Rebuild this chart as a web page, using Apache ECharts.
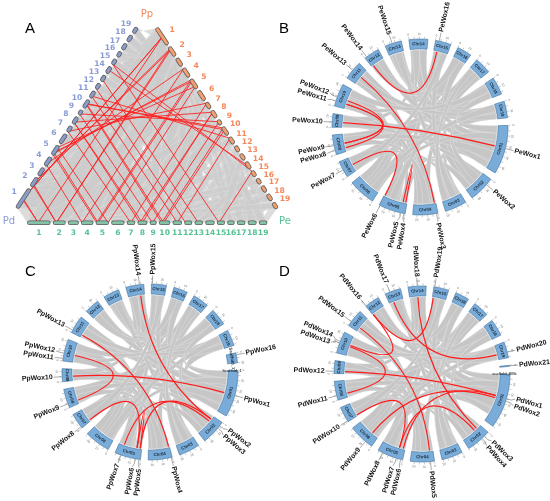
<!DOCTYPE html>
<html><head><meta charset="utf-8">
<script src="https://cdn.jsdelivr.net/npm/echarts@6/dist/echarts.min.js"></script>
<style>html,body{margin:0;padding:0;background:#fff;}#chart{width:550px;height:501px;}</style>
</head><body><div id="chart"></div>
<script>
// ---------------- DATA ----------------
const chrNames = ['Chr01','Chr02','Chr03','Chr04','Chr05','Chr06','Chr07','Chr08','Chr09','Chr10',
  'Chr11','Chr12','Chr13','Chr14','Chr15','Chr16','Chr17','Chr18','Chr19'];
// chromosome lengths (Mb)
const peChrLen = [47,25,21,24,26,26,16,19,13,22,18,15,16,18,15,14,16,17,16];
const ppChrLen = [47,25,21,24,26,26,16,19,13,22,18,15,16,18,15,14,16,17,16,10];
const pdChrLen = [55,25,21,24,26,26,16,19,13,22,18,15,16,18,15,14,16,17,16,1];
const ppExtraName = 'Scaffold_1';
const pdExtraName = 'scaffold_885';

// WOX genes: [name, chromosome, position Mb]
const peGenes = [
  ['PeWox1',1,22],['PeWox2',2,6.5],['PeWox3',4,1.5],['PeWox4',5,1.3],['PeWox5',5,4.2],['PeWox6',5,25],
  ['PeWox7',7,7.5],['PeWox8',8,4],['PeWox9',8,9],['PeWox10',9,5],['PeWox11',10,5],['PeWox12',10,9],
  ['PeWox13',11,9],['PeWox14',12,2],['PeWox15',13,7],['PeWox16',15,3.5]
];
const ppGenes = [
  ['PpWox1',1,25],['PpWox2',2,4],['PpWox3',2,7],['PpWox4',4,1],['PpWox5',5,1.6],['PpWox6',5,5.3],['PpWox7',5,20],
  ['PpWox8',7,1.5],['PpWox9',8,4],['PpWox10',9,5],['PpWox11',10,2.5],['PpWox12',10,7.8],['PpWox13',11,2.7],
  ['PpWox14',14,13.7],['PpWox15',15,1],['PpWox16',20,2]
];
const pdGenes = [
  ['PdWox1',1,24.6],['PdWox2',1,27.2],['PdWox3',2,5.4],['PdWox4',2,8.5],['PdWox5',4,4],['PdWox6',5,2],['PdWox7',5,6.5],
  ['PdWox8',5,21],['PdWox9',6,7.7],['PdWox10',7,1],['PdWox11',8,4.5],['PdWox12',9,2.3],['PdWox13',10,10.3],
  ['PdWox14',10,12],['PdWox15',11,4.8],['PdWox16',12,0.5],['PdWox17',13,5],['PdWox18',14,9.2],['PdWox19',15,1],
  ['PdWox20',19,10.4],['PdWox21',20,0.5]
];
// segmental duplication pairs (red links)
const peLinks = [['PeWox16','PeWox14'],['PeWox13','PeWox3'],['PeWox12','PeWox9'],['PeWox11','PeWox8'],
  ['PeWox11','PeWox9'],['PeWox10','PeWox1'],['PeWox7','PeWox6'],['PeWox4','PeWox5']];
const ppLinks = [['PpWox14','PpWox2'],['PpWox13','PpWox4'],['PpWox12','PpWox9'],['PpWox10','PpWox1'],
  ['PpWox8','PpWox6'],['PpWox7','PpWox3'],['PpWox5','PpWox2'],['PpWox6','PpWox5']];
const pdLinks = [['PdWox19','PdWox16'],['PdWox18','PdWox3'],['PdWox17','PdWox20'],['PdWox15','PdWox5'],
  ['PdWox14','PdWox16'],['PdWox13','PdWox11'],['PdWox12','PdWox1'],['PdWox10','PdWox7'],['PdWox9','PdWox2'],
  ['PdWox7','PdWox4'],['PdWox6','PdWox1']];

// intra-genome collinear blocks (grey ribbons): [chrA, startA, endA, chrB, startB, endB] (Mb)
const syntenyBlocks = [
  [1,0,9,3,0,8],[1,9,20,11,1,14],[1,20,30,9,0,12],[1,30,46,3,8,21],[1,0,6,17,10,16],
  [2,0,9,5,0,8],[2,9,24,14,2,18],[2,18,25,4,16,24],[4,0,14,9,0,13],[4,14,24,11,6,18],
  [5,8,26,7,0,16],[5,18,26,2,18,25],[6,0,13,18,0,16],[6,13,26,16,0,14],[7,0,16,17,0,16],
  [8,0,19,10,0,22],[12,0,15,15,0,15],[13,0,16,19,0,16],[3,12,21,16,6,14],[11,0,8,4,0,10],
  [14,0,8,9,4,13],[10,12,22,6,18,26],[18,5,17,12,3,14],[15,4,15,13,2,12],[19,2,16,1,36,47],
  [3,0,5,7,3,9],[17,2,10,14,10,18],[16,0,6,10,0,7],[11,12,18,1,40,47],[9,6,13,5,0,6],
  [15,0,8,5,10,18],[16,6,14,2,10,18],[17,8,16,4,4,12],[18,0,8,8,10,19],[19,8,16,11,4,12],
  [14,10,18,1,12,22],[13,8,16,3,2,10],[12,6,15,1,20,30],[10,0,10,4,12,20],[9,0,6,2,0,6],
  [8,8,16,1,28,38],[7,8,16,6,6,14],[6,0,8,1,8,16],[5,12,20,17,4,12],[3,4,12,15,6,14],
  [2,4,12,18,8,16],[11,4,12,19,2,10],[14,2,10,13,6,14],[16,0,8,12,0,8],[4,6,14,8,2,10],
  [10,14,22,18,2,10],[19,0,8,6,2,10],[18,10,17,1,0,8],[17,0,6,3,14,21],[15,8,15,7,0,8]
];
// inter-genome collinear chromosome pairs (grey ribbons in triangle)
const triBlocks = [[1,1],[2,2],[3,3],[4,4],[5,5],[6,6],[7,7],[8,8],[9,9],[10,10],[11,11],[12,12],[13,13],
  [14,14],[15,15],[16,16],[17,17],[18,18],[19,19],[1,11],[11,1],[1,3],[3,1],[2,5],[5,2],[2,14],[14,2],
  [4,9],[9,4],[5,7],[7,5],[6,16],[16,6],[6,18],[18,6],[8,10],[10,8],[12,15],[15,12],[13,19],[19,13],
  [4,11],[11,4],[1,9],[9,1],[7,17],[17,7],[3,16],[16,3],[10,6],[6,10],[18,12],[12,18],[1,19],[19,1],
  [2,4],[4,2],[15,13],[13,15]];
// orthologous WOX pairs between genomes: [chrA, posA, chrB, posB]
const linksPdPe = [[1,24.6,1,22],[1,27.2,1,22],[2,5.4,2,6.5],[2,8.5,2,6.5],[4,4,4,1.5],[5,2,5,1.3],[5,6.5,5,4.2],
  [5,21,5,25],[7,1,7,7.5],[8,4.5,8,4],[8,4.5,8,9],[9,2.3,9,5],[10,10.3,10,5],[10,12,10,9],[11,4.8,11,9],
  [12,0.5,12,2],[13,5,13,7],[15,1,15,3.5]];
const linksPpPe = [[1,25,1,22],[2,4,2,6.5],[2,7,2,6.5],[4,1,4,1.5],[5,1.6,5,1.3],[5,5.3,5,4.2],[5,20,5,25],
  [7,1.5,7,7.5],[8,4,8,4],[8,4,8,9],[9,5,9,5],[10,2.5,10,5],[10,7.8,10,9],[11,2.7,11,9],[15,1,15,3.5]];
const linksPdPp = [[1,24.6,1,25],[1,27.2,1,25],[2,5.4,2,4],[2,8.5,2,7],[4,4,4,1],[5,2,5,1.6],[5,6.5,5,5.3],
  [5,21,5,20],[7,1,7,1.5],[8,4.5,8,4],[9,2.3,9,5],[10,10.3,10,2.5],[10,12,10,7.8],[11,4.8,11,2.7],
  [14,9.2,14,13.7],[15,1,15,1]];
const genomeNames = ['Pd','Pp','Pe'];
const panelLetters = ['A','B','C','D'];

// ---------------- LAYOUT / STYLE ----------------
const FONT = '"Liberation Sans", Arial, sans-serif';
const R_IN = 78, R_OUT = 88, R_LINK = 77;
const RED = '#ff1c1c';

function circLayout(lens, start, gap){
  const total = lens.reduce((a,b)=>a+b,0);
  const k = (360 - gap*lens.length)/total;
  const a0 = []; let a = start;
  lens.forEach(L=>{ a0.push(a); a += L*k + gap; });
  return {a0, k};
}
const circles = [
  {polar:0, names: chrNames, lens: peChrLen, start:-1, genes: peGenes, links: peLinks},
  {polar:1, names: chrNames.concat([ppExtraName]), lens: ppChrLen, start:-1, genes: ppGenes, links: ppLinks},
  {polar:2, names: chrNames.concat([pdExtraName]), lens: pdChrLen, start:0, genes: pdGenes, links: pdLinks}
];
function cAng(c, chr, pos){ return c.L.a0[chr-1] + Math.min(pos, c.lens[chr-1]) * c.L.k; }
function spread(angles, minSep){
  const idx = angles.map((a,i)=>i).sort((i,j)=>angles[i]-angles[j]);
  const la = angles.slice();
  for (let it=0; it<200; it++){
    let moved = false;
    for (let n=1; n<idx.length; n++){
      const i = idx[n-1], j = idx[n];
      const d = la[j]-la[i];
      if (d < minSep - 1e-6){ const s=(minSep-d)/2; la[i]-=s; la[j]+=s; moved=true; }
    }
    if (!moved) break;
  }
  return la;
}
circles.forEach(c=>{
  c.L = circLayout(c.lens, c.start, 5);
  c.geneAng = c.genes.map(g=>cAng(c, g[1], g[2]));
  c.labelAng = spread(c.geneAng, 4.2);
  c.geneIdx = {};
  c.genes.forEach((g,i)=>{ c.geneIdx[g[0]] = i; });
});

function arcPts(api, r, a0, a1, out){
  const n = Math.max(2, Math.ceil(Math.abs(a1-a0)/1.5));
  for (let s=0; s<=n; s++){ const p = api.coord([r, a0+(a1-a0)*s/n]); out.push([p[0],p[1]]); }
}
function quadPts(p0, cp, p2, out){
  const n = 18;
  for (let s=1; s<=n; s++){
    const t=s/n, u=1-t;
    out.push([u*u*p0[0]+2*u*t*cp[0]+t*t*p2[0], u*u*p0[1]+2*u*t*cp[1]+t*t*p2[1]]);
  }
}
function txt(x, y, rot, text, font, fill, align, valign){
  return {type:'text', x:x, y:y, rotation:rot, style:{text:text, font:font, fill:fill, textFill:fill,
    align:align, textAlign:align, verticalAlign:valign, textVerticalAlign:valign}};
}

const series = [];
circles.forEach(c=>{
  // grey collinearity ribbons
  series.push({type:'custom', coordinateSystem:'polar', polarIndex:c.polar, silent:true, z:1,
    data: syntenyBlocks.map(()=>[0,0]),
    renderItem:(params, api)=>{
      const b = syntenyBlocks[params.dataIndex];
      if (b[0] > c.lens.length || b[3] > c.lens.length) return null;
      const a0 = cAng(c,b[0],b[1]), a1 = cAng(c,b[0],b[2]);
      const b0 = cAng(c,b[3],b[4]), b1 = cAng(c,b[3],b[5]);
      const ctr = api.coord([0,0]);
      const pts = [];
      arcPts(api, R_LINK, a0, a1, pts);
      quadPts(pts[pts.length-1], ctr, api.coord([R_LINK,b0]), pts);
      arcPts(api, R_LINK, b0, b1, pts);
      quadPts(pts[pts.length-1], ctr, api.coord([R_LINK,a0]), pts);
      return {type:'polygon', shape:{points:pts}, style:{fill:'#c6c6c6', stroke:'#f4f4f4', lineWidth:0.3}};
    }});
  // red links
  series.push({type:'custom', coordinateSystem:'polar', polarIndex:c.polar, silent:true, z:2,
    data: c.links.map(()=>[0,0]),
    renderItem:(params, api)=>{
      const l = c.links[params.dataIndex];
      const aA = c.geneAng[c.geneIdx[l[0]]], aB = c.geneAng[c.geneIdx[l[1]]];
      const p0 = api.coord([R_LINK,aA]), p1 = api.coord([R_LINK,aB]), ctr = api.coord([0,0]);
      return {type:'bezierCurve', shape:{x1:p0[0],y1:p0[1],x2:p1[0],y2:p1[1],cpx1:ctr[0],cpy1:ctr[1]},
        style:{stroke:RED, lineWidth:1.15, fill:null}};
    }});
  // chromosome boxes
  series.push({type:'custom', coordinateSystem:'polar', polarIndex:c.polar, silent:true, z:3,
    data: c.lens.map(()=>[0,0]),
    renderItem:(params, api)=>{
      const i = params.dataIndex, len = c.lens[i];
      const a0 = c.L.a0[i], a1 = a0 + len*c.L.k;
      const pts = [];
      arcPts(api, R_OUT, a0, a1, pts);
      const inner = []; arcPts(api, R_IN, a1, a0, inner);
      const children = [{type:'polygon', shape:{points:pts.concat(inner)},
        style:{fill:'#79acd9', stroke:'#40709c', lineWidth:0.6}}];
      for (let p=0; p<=len; p+=5){
        const a = a0 + p*c.L.k;
        const q0 = api.coord([R_OUT+0.6,a]), q1 = api.coord([R_OUT+2.6,a]);
        children.push({type:'line', shape:{x1:q0[0],y1:q0[1],x2:q1[0],y2:q1[1]}, style:{stroke:'#777',lineWidth:0.4}});
        if (p%10===0){
          const t = api.coord([R_OUT+5,a]);
          const nm = ((a%360)+360)%360;
          const rot = (nm>0 && nm<180) ? (90-nm)*Math.PI/180 : (270-nm)*Math.PI/180;
          children.push(txt(t[0],t[1],rot,String(p),'3px '+FONT,'#666','center','middle'));
        }
      }
      if (len >= 5){
        const am = (a0+a1)/2, nm = ((am%360)+360)%360;
        const t = api.coord([(R_IN+R_OUT)/2, am]);
        const rot = (nm>0 && nm<180) ? (90-nm)*Math.PI/180 : (270-nm)*Math.PI/180;
        children.push(txt(t[0],t[1],rot,c.names[i],'bold 4.4px '+FONT,'#1b2b3a','center','middle'));
      }
      if (i >= 19){
        const t = api.coord([R_IN+4, a1+5]);
        children.push(txt(t[0],t[1],0,c.names[i],'4.2px '+FONT,'#111','center','middle'));
      }
      return {type:'group', children};
    }});
  // gene labels
  series.push({type:'custom', coordinateSystem:'polar', polarIndex:c.polar, silent:true, z:4,
    data: c.genes.map(()=>[0,0]),
    renderItem:(params, api)=>{
      const g = c.genes[params.dataIndex];
      const a = c.geneAng[params.dataIndex], la = c.labelAng[params.dataIndex];
      const p0 = api.coord([R_OUT+0.5,a]), p1 = api.coord([R_OUT+5,a]), p2 = api.coord([R_OUT+8.5,la]), p3 = api.coord([R_OUT+9.5,la]);
      const nm = ((la%360)+360)%360;
      const right = nm < 90 || nm > 270;
      const rot = right ? -nm*Math.PI/180 : (180-nm)*Math.PI/180;
      return {type:'group', children:[
        {type:'polyline', shape:{points:[[p0[0],p0[1]],[p1[0],p1[1]],[p2[0],p2[1]]]}, style:{stroke:'#555',lineWidth:0.5,fill:null}},
        txt(p3[0],p3[1],rot,g[0],'bold 6.9px '+FONT,'#111', right?'left':'right','middle')
      ]};
    }});
});

// ---------------- TRIANGLE (panel A) ----------------
const triGeom = {Pd:{p0:[17,208], p1:[137,27.5]}, Pp:{p0:[156.5,28], p1:[277,208.5]}, Pe:{p0:[27.5,222.7], p1:[267,222.7]}};
const triLens = {Pd: pdChrLen.slice(0,19), Pp: ppChrLen.slice(0,19), Pe: peChrLen};
const triStyle = {
  Pd:{fill:'#8b9dc8', label:'#8a9ad4', off:11},
  Pp:{fill:'#f2a06e', label:'#f5875a', off:12},
  Pe:{fill:'#86c2a6', label:'#56c295', off:10}
};
const triCentroid = [147,150];
const edges = {};
genomeNames.forEach(gn=>{
  const g = triGeom[gn], lens = triLens[gn], gap = 3;
  const dx = g.p1[0]-g.p0[0], dy = g.p1[1]-g.p0[1];
  const len = Math.hypot(dx,dy);
  const total = lens.reduce((a,b)=>a+b,0);
  const k = (len - gap*(lens.length-1))/total;
  const starts = []; let s = 0;
  lens.forEach(L=>{ starts.push(s); s += L*k + gap; });
  let n = [dy/len, -dx/len];
  const mid = [(g.p0[0]+g.p1[0])/2, (g.p0[1]+g.p1[1])/2];
  if (n[0]*(mid[0]-triCentroid[0]) + n[1]*(mid[1]-triCentroid[1]) < 0) n = [-n[0],-n[1]];
  edges[gn] = {p0:g.p0, dir:[dx/len, dy/len], len, k, starts, lens, normal:n};
});
function ePt(gn, chr, pos){
  const E = edges[gn];
  const d = E.starts[chr-1] + Math.min(pos, E.lens[chr-1])*E.k;
  return [E.p0[0]+E.dir[0]*d, E.p0[1]+E.dir[1]*d];
}
const triPairs = [['Pd','Pe'],['Pd','Pp'],['Pp','Pe']];
const triRibbonData = [];
triPairs.forEach((pr,pi)=>triBlocks.forEach((b,bi)=>triRibbonData.push([pi,bi])));
series.push({type:'custom', coordinateSystem:'cartesian2d', silent:true, z:1,
  data: triRibbonData.map(()=>[0,0]),
  renderItem:(params, api)=>{
    const it = triRibbonData[params.dataIndex];
    const pr = triPairs[it[0]], b = triBlocks[it[1]];
    const A = pr[0], B = pr[1];
    const pts = [ePt(A,b[0],0), ePt(A,b[0],1e9), ePt(B,b[1],1e9), ePt(B,b[1],0)].map(p=>api.coord(p));
    return {type:'polygon', shape:{points:pts}, style:{fill:'#cbcbcb', opacity:0.68, stroke:'#ffffff', lineWidth:0.25}};
  }});
const triLinks = [];
linksPdPe.forEach(l=>triLinks.push(['Pd','Pe',l]));
linksPpPe.forEach(l=>triLinks.push(['Pp','Pe',l]));
linksPdPp.forEach(l=>triLinks.push(['Pd','Pp',l]));
series.push({type:'custom', coordinateSystem:'cartesian2d', silent:true, z:2,
  data: triLinks.map(()=>[0,0]),
  renderItem:(params, api)=>{
    const t = triLinks[params.dataIndex];
    const p0 = api.coord(ePt(t[0],t[2][0],t[2][1])), p1 = api.coord(ePt(t[1],t[2][2],t[2][3]));
    return {type:'line', shape:{x1:p0[0],y1:p0[1],x2:p1[0],y2:p1[1]}, style:{stroke:RED, lineWidth:0.85}};
  }});
const triSegData = [];
genomeNames.forEach(gn=>triLens[gn].forEach((L,i)=>triSegData.push([gn,i+1])));
series.push({type:'custom', coordinateSystem:'cartesian2d', silent:true, z:3,
  data: triSegData.map(()=>[0,0]),
  renderItem:(params, api)=>{
    const sd = triSegData[params.dataIndex], gn = sd[0], chr = sd[1], E = edges[gn];
    const q0 = ePt(gn,chr,0), q1 = ePt(gn,chr,1e9);
    const segLen = Math.hypot(q1[0]-q0[0], q1[1]-q0[1]);
    const sh = Math.min(1.9, segLen/2-0.3);
    const a = api.coord([q0[0]+E.dir[0]*sh, q0[1]+E.dir[1]*sh]);
    const b = api.coord([q1[0]-E.dir[0]*sh, q1[1]-E.dir[1]*sh]);
    const mid = [(q0[0]+q1[0])/2 + E.normal[0]*triStyle[gn].off, (q0[1]+q1[1])/2 + E.normal[1]*triStyle[gn].off];
    const m = api.coord(mid);
    return {type:'group', children:[
      {type:'line', shape:{x1:a[0],y1:a[1],x2:b[0],y2:b[1]}, style:{stroke:'#5c5c5c', lineWidth:4.6, lineCap:'round'}},
      {type:'line', shape:{x1:a[0],y1:a[1],x2:b[0],y2:b[1]}, style:{stroke:triStyle[gn].fill, lineWidth:3.0, lineCap:'round'}},
      txt(m[0], m[1], 0, String(chr), 'bold 7.6px "DejaVu Sans", sans-serif', triStyle[gn].label, 'center', 'middle')
    ]};
  }});
const genomeLabelPos = {Pd:[9,221], Pp:[147,14], Pe:[285,221]};
series.push({type:'custom', coordinateSystem:'cartesian2d', silent:true, z:4,
  data: genomeNames.map(()=>[0,0]),
  renderItem:(params, api)=>{
    const gn = genomeNames[params.dataIndex];
    const p = api.coord(genomeLabelPos[gn]);
    return txt(p[0],p[1],0,gn,'10px "DejaVu Sans", sans-serif',triStyle[gn].label,'center','middle');
  }});

const letterPos = [[25,21],[279,21],[25,264],[279,264]];
const option = {
  animation: false,
  backgroundColor: '#ffffff',
  title: panelLetters.map((t,i)=>({text:t, left:letterPos[i][0], top:letterPos[i][1], padding:0,
    textStyle:{fontSize:15, fontWeight:'normal', color:'#000', fontFamily:'Liberation Sans'}})),
  grid: {left:0, top:0, width:275, height:250, show:false},
  xAxis: {type:'value', min:0, max:275, show:false},
  yAxis: {type:'value', min:0, max:250, inverse:true, show:false},
  polar: [{center:[420,127], radius:100},{center:[150,372], radius:100},{center:[422,374], radius:100}],
  angleAxis: [0,1,2].map(i=>({polarIndex:i, type:'value', min:0, max:360, startAngle:0, clockwise:true, show:false})),
  radiusAxis: [0,1,2].map(i=>({polarIndex:i, type:'value', min:0, max:100, show:false})),
  series: series
};
const chart = echarts.init(document.getElementById('chart'));
chart.setOption(option);
</script></body></html>
